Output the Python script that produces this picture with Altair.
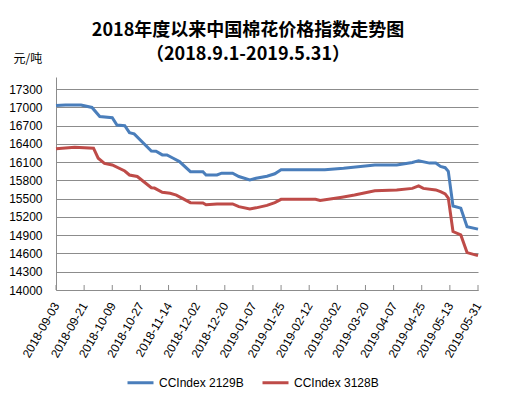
import altair as alt
import pandas as pd

series_names = ["CCIndex 2129B", "CCIndex 3128B"]
series_colors = ["#4a7ebb", "#be4b48"]

blue_dates = ["2018-09-03", "2018-09-09", "2018-09-19", "2018-09-26", "2018-10-01", "2018-10-09",
              "2018-10-12", "2018-10-17", "2018-10-20", "2018-10-23", "2018-11-03", "2018-11-06",
              "2018-11-10", "2018-11-13", "2018-11-17", "2018-11-21", "2018-11-28", "2018-12-06",
              "2018-12-08", "2018-12-15", "2018-12-18", "2018-12-25", "2018-12-29", "2019-01-05",
              "2019-01-09", "2019-01-16", "2019-01-21", "2019-01-25", "2019-02-22", "2019-03-06",
              "2019-03-26", "2019-04-09", "2019-04-19", "2019-04-23", "2019-04-30", "2019-05-04",
              "2019-05-07", "2019-05-10", "2019-05-12", "2019-05-15", "2019-05-20", "2019-05-24",
              "2019-05-31"]
blue_values = [17030, 17040, 17040, 17000, 16850, 16830,
               16710, 16700, 16585, 16565, 16285, 16280,
               16220, 16220, 16165, 16110, 15945, 15945,
               15890, 15890, 15920, 15920, 15865, 15810,
               15835, 15870, 15910, 15975, 15975, 16000,
               16055, 16055, 16095, 16125, 16085, 16085,
               16030, 16010, 15950, 15380, 15345, 15040,
               15000]

red_dates = ["2018-09-03", "2018-09-15", "2018-09-27", "2018-09-30", "2018-10-04", "2018-10-09",
             "2018-10-17", "2018-10-20", "2018-10-25", "2018-11-03", "2018-11-05", "2018-11-10",
             "2018-11-15", "2018-11-19", "2018-11-28", "2018-12-06", "2018-12-08", "2018-12-15",
             "2018-12-25", "2018-12-29", "2019-01-05", "2019-01-09", "2019-01-16", "2019-01-21",
             "2019-01-25", "2019-02-16", "2019-02-19", "2019-03-05", "2019-03-13", "2019-03-26",
             "2019-04-09", "2019-04-19", "2019-04-23", "2019-04-26", "2019-05-04", "2019-05-07",
             "2019-05-10", "2019-05-12", "2019-05-15", "2019-05-20", "2019-05-24", "2019-05-31"]
red_values = [16320, 16345, 16330, 16165, 16080, 16055,
              15955, 15890, 15865, 15680, 15675, 15605,
              15590, 15560, 15435, 15430, 15400, 15415,
              15415, 15370, 15330, 15350, 15390, 15435,
              15490, 15490, 15470, 15525, 15560, 15630,
              15645, 15670, 15710, 15670, 15645, 15615,
              15580, 15510, 14960, 14905, 14615, 14565]

x_tick_dates = ["2018-09-03", "2018-09-21", "2018-10-09", "2018-10-27", "2018-11-14", "2018-12-02",
                "2018-12-20", "2019-01-07", "2019-01-25", "2019-02-12", "2019-03-02", "2019-03-20",
                "2019-04-07", "2019-04-25", "2019-05-13", "2019-05-31"]
y_ticks = [14000, 14300, 14600, 14900, 15200, 15500, 15800, 16100, 16400, 16700, 17000, 17300]
y_domain = [14000, 17500]

title_lines = ["2018年度以来中国棉花价格指数走势图", "（2018.9.1-2019.5.31）"]
unit_label = "元/吨"


def to_dt(s):
    y, m, d = (int(p) for p in s.split("-"))
    return alt.DateTime(year=y, month=m, date=d, utc=True)


df = pd.concat([
    pd.DataFrame({"date": blue_dates, "value": blue_values, "series": series_names[0]}),
    pd.DataFrame({"date": red_dates, "value": red_values, "series": series_names[1]}),
])
df_ticks = pd.DataFrame({"date": x_tick_dates})

W, H = 422, 213
GRID = "#8c8c8c"

x_scale = alt.Scale(type="utc", domain=[to_dt(x_tick_dates[0]), to_dt(x_tick_dates[-1])])
x_axis = alt.Axis(values=[to_dt(s) for s in x_tick_dates], format="%Y-%m-%d",
                  title=None, labelAngle=-60, labelAlign="right",
                  labelBaseline="middle", labelPadding=13, ticks=False, grid=False,
                  domainColor=GRID, labelFont="Liberation Sans", labelFontSize=12,
                  labelColor="#000000", labelOverlap=False, labelBound=False,
                  labelFlush=False)

lines = alt.Chart(df).mark_line(strokeWidth=3, interpolate="linear").encode(
    x=alt.X("date:T", scale=x_scale, axis=x_axis),
    y=alt.Y("value:Q", scale=alt.Scale(domain=y_domain, nice=False, zero=False),
            axis=alt.Axis(values=y_ticks, format="d", title=unit_label, titleAngle=0,
                          titleAlign="left", titleBaseline="alphabetic", titleX=-43, titleY=-15,
                          titleFont="Noto Sans CJK SC", titleFontSize=12, titleFontWeight="normal",
                          titleColor="#000000", ticks=False, labelPadding=14, grid=True,
                          gridColor=GRID, gridWidth=1, domainColor=GRID,
                          labelFont="Liberation Sans", labelFontSize=12, labelColor="#000000")),
    color=alt.Color("series:N", sort=series_names,
                    scale=alt.Scale(domain=series_names, range=series_colors),
                    legend=alt.Legend(title=None, orient="none", legendX=70, legendY=291,
                                      direction="horizontal", symbolType="stroke",
                                      symbolSize=676, symbolStrokeWidth=3, columnPadding=12,
                                      labelFont="Liberation Sans", labelFontSize=12,
                                      labelColor="#000000", labelOffset=4, padding=0)),
)

ticks = alt.Chart(df_ticks).mark_rule(color=GRID, strokeWidth=1).encode(
    x=alt.X("date:T", scale=x_scale, axis=x_axis),
    y=alt.value(H - 5),
    y2=alt.value(H),
)

chart = alt.layer(lines, ticks).properties(
    width=W, height=H,
    autosize=alt.AutoSizeParams(type="none"),
    padding={"left": 48, "top": 69, "right": 21, "bottom": 101},
    title=alt.TitleParams(title_lines, anchor="middle", dx=-19, offset=-12,
                          font="Noto Sans CJK SC", fontSize=18, fontWeight="bold",
                          lineHeight=24, color="#000000"),
).configure_view(stroke=None)

chart.save("out.html", embed_options={"renderer": "svg", "actions": False})
